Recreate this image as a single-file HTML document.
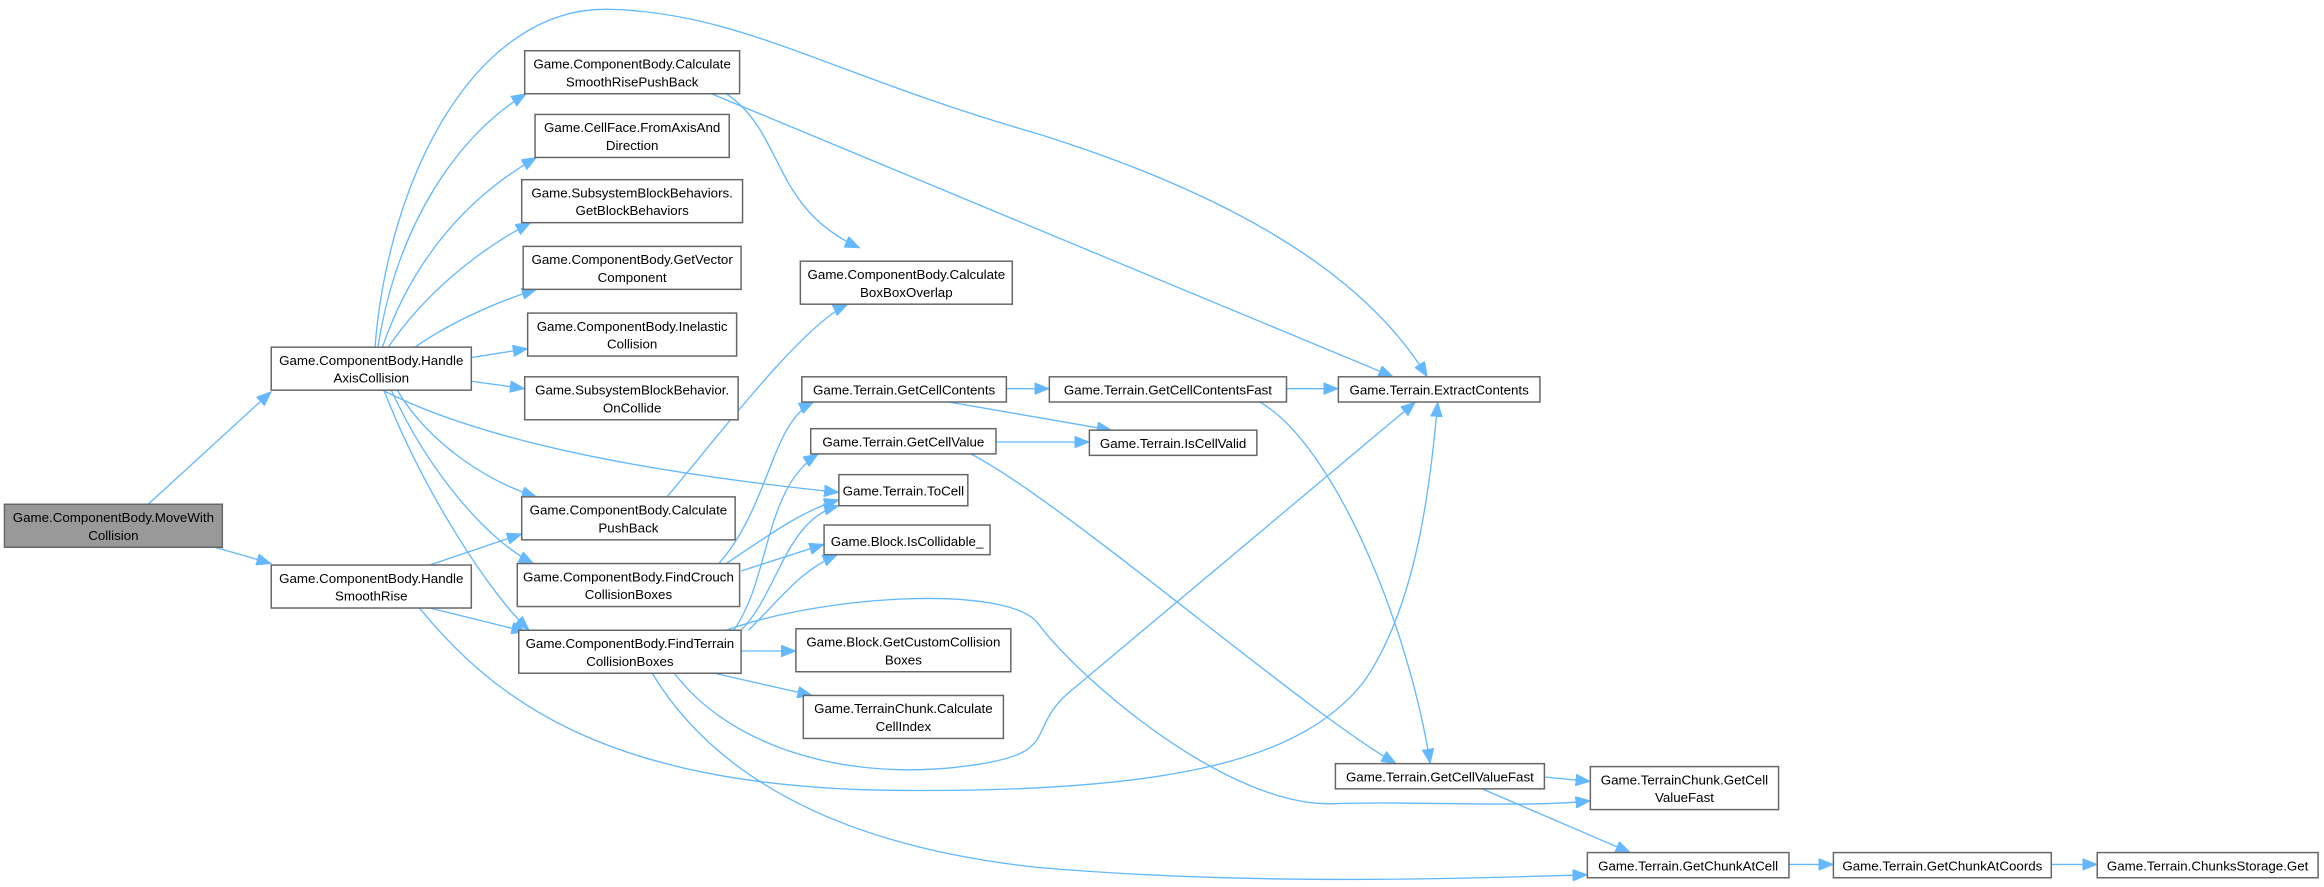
<!DOCTYPE html>
<html><head><meta charset="utf-8"><style>
html,body{margin:0;padding:0;background:#fff;}
svg{display:block;}
text{font-family:"Liberation Sans",sans-serif;font-size:9px;fill:#000;text-anchor:middle;}
.b{fill:#fff;stroke:#666;stroke-width:1;}
.g{fill:#999;stroke:#666;stroke-width:1;}
path{fill:none;stroke:#63b8ff;stroke-width:0.9;}
</style></head><body>
<svg width="2324" height="887" viewBox="0 0 1568 598" xmlns="http://www.w3.org/2000/svg">
<defs><marker id="a" markerUnits="userSpaceOnUse" markerWidth="11" markerHeight="8" refX="10" refY="4" orient="auto"><path d="M0,0 L10,4 L0,8 Z" style="fill:#63b8ff;stroke:#63b8ff;stroke-width:0.5"/></marker></defs>
<g marker-end="url(#a)">
<path d="M100,340 L183,264"/>
<path d="M145,369 L183,380"/>
<path d="M255,234 C268,150 310,90 355,63"/>
<path d="M258,234 C280,170 320,130 362,106"/>
<path d="M262,234 C285,200 320,170 358,150"/>
<path d="M280,234 C300,220 330,205 362,195"/>
<path d="M318,241 L356,235"/>
<path d="M318,257 L354,262"/>
<path d="M253,234 C262,120 320,5 410,6 C500,8 560,50 700,90 C860,140 930,200 963,254"/>
<path d="M258,263 C330,300 450,320 566,332"/>
<path d="M268,263 C290,300 330,325 362,335"/>
<path d="M264,263 C290,320 330,365 360,380"/>
<path d="M259,263 C285,330 330,400 357,425"/>
<path d="M290,381 L352,360"/>
<path d="M290,410 L355,426"/>
<path d="M283,410 C340,480 420,530 600,533 C800,535 880,510 920,460 C955,410 965,330 970,271"/>
<path d="M480,63 L940,254"/>
<path d="M490,63 C530,90 520,140 580,167"/>
<path d="M450,335 C480,300 540,220 572,205"/>
<path d="M485,380 C520,340 520,285 549,271"/>
<path d="M490,380 C520,360 540,345 566,337"/>
<path d="M500,385 L556,367"/>
<path d="M495,425 C520,390 515,330 552,306"/>
<path d="M500,425 C525,400 530,350 566,341"/>
<path d="M505,425 C530,400 540,385 565,374"/>
<path d="M500,439 L537,439"/>
<path d="M482,454 L548,469"/>
<path d="M490,425 C560,400 680,395 700,420 C730,460 830,545 900,542 C960,540 1030,545 1073,540"/>
<path d="M455,454 C490,500 560,525 640,518 C720,510 690,495 720,468 L955,271"/>
<path d="M440,454 C480,520 560,570 700,585 C850,598 1000,592 1071,590"/>
<path d="M679,262 L708,262"/>
<path d="M640,271 L750,290"/>
<path d="M672,298 L735,298"/>
<path d="M655,306 C720,340 880,480 942,515"/>
<path d="M868,262 L903,262"/>
<path d="M850,271 C900,300 950,420 965,515"/>
<path d="M1042,524 L1073,527"/>
<path d="M1000,532 L1100,575"/>
<path d="M1207,583 L1237,583"/>
<path d="M1384,583 L1415,583"/>
</g>
<rect class="g" x="3" y="340" width="147" height="29"/><text x="76.5" y="352">Game.ComponentBody.MoveWith</text><text x="76.5" y="364">Collision</text>
<rect class="b" x="183" y="234" width="135" height="29"/><text x="250.5" y="246">Game.ComponentBody.Handle</text><text x="250.5" y="258">AxisCollision</text>
<rect class="b" x="183" y="381" width="135" height="29"/><text x="250.5" y="393">Game.ComponentBody.Handle</text><text x="250.5" y="405">SmoothRise</text>
<rect class="b" x="354" y="34" width="145" height="29"/><text x="426.5" y="46">Game.ComponentBody.Calculate</text><text x="426.5" y="58">SmoothRisePushBack</text>
<rect class="b" x="361" y="77" width="131" height="29"/><text x="426.5" y="89">Game.CellFace.FromAxisAnd</text><text x="426.5" y="101">Direction</text>
<rect class="b" x="352" y="121" width="149" height="29"/><text x="426.5" y="133">Game.SubsystemBlockBehaviors.</text><text x="426.5" y="145">GetBlockBehaviors</text>
<rect class="b" x="353" y="166" width="147" height="29"/><text x="426.5" y="178">Game.ComponentBody.GetVector</text><text x="426.5" y="190">Component</text>
<rect class="b" x="356" y="211" width="141" height="29"/><text x="426.5" y="223">Game.ComponentBody.Inelastic</text><text x="426.5" y="235">Collision</text>
<rect class="b" x="354" y="254" width="144" height="29"/><text x="426.5" y="266">Game.SubsystemBlockBehavior.</text><text x="426.5" y="278">OnCollide</text>
<rect class="b" x="352" y="335" width="144" height="29"/><text x="424" y="347">Game.ComponentBody.Calculate</text><text x="424" y="359">PushBack</text>
<rect class="b" x="349" y="380" width="150" height="29"/><text x="424" y="392">Game.ComponentBody.FindCrouch</text><text x="424" y="404">CollisionBoxes</text>
<rect class="b" x="350" y="425" width="150" height="29"/><text x="425" y="437">Game.ComponentBody.FindTerrain</text><text x="425" y="449">CollisionBoxes</text>
<rect class="b" x="540" y="176" width="143" height="29"/><text x="611.5" y="188">Game.ComponentBody.Calculate</text><text x="611.5" y="200">BoxBoxOverlap</text>
<rect class="b" x="541" y="254" width="138" height="17"/><text x="610" y="266">Game.Terrain.GetCellContents</text>
<rect class="b" x="547" y="289" width="125" height="17"/><text x="609.5" y="301">Game.Terrain.GetCellValue</text>
<rect class="b" x="566" y="320" width="87" height="21"/><text x="609.5" y="334">Game.Terrain.ToCell</text>
<rect class="b" x="556" y="354" width="112" height="20"/><text x="612" y="368">Game.Block.IsCollidable_</text>
<rect class="b" x="537" y="424" width="145" height="29"/><text x="609.5" y="436">Game.Block.GetCustomCollision</text><text x="609.5" y="448">Boxes</text>
<rect class="b" x="542" y="469" width="135" height="29"/><text x="609.5" y="481">Game.TerrainChunk.Calculate</text><text x="609.5" y="493">CellIndex</text>
<rect class="b" x="708" y="254" width="160" height="17"/><text x="788" y="266">Game.Terrain.GetCellContentsFast</text>
<rect class="b" x="735" y="290" width="113" height="17"/><text x="791.5" y="302">Game.Terrain.IsCellValid</text>
<rect class="b" x="903" y="254" width="136" height="17"/><text x="971" y="266">Game.Terrain.ExtractContents</text>
<rect class="b" x="901" y="515" width="141" height="17"/><text x="971.5" y="527">Game.Terrain.GetCellValueFast</text>
<rect class="b" x="1073" y="517" width="127" height="29"/><text x="1136.5" y="529">Game.TerrainChunk.GetCell</text><text x="1136.5" y="541">ValueFast</text>
<rect class="b" x="1071" y="575" width="136" height="17"/><text x="1139" y="587">Game.Terrain.GetChunkAtCell</text>
<rect class="b" x="1237" y="575" width="147" height="17"/><text x="1310.5" y="587">Game.Terrain.GetChunkAtCoords</text>
<rect class="b" x="1415" y="575" width="149" height="17"/><text x="1489.5" y="587">Game.Terrain.ChunksStorage.Get</text>
</svg>
</body></html>
